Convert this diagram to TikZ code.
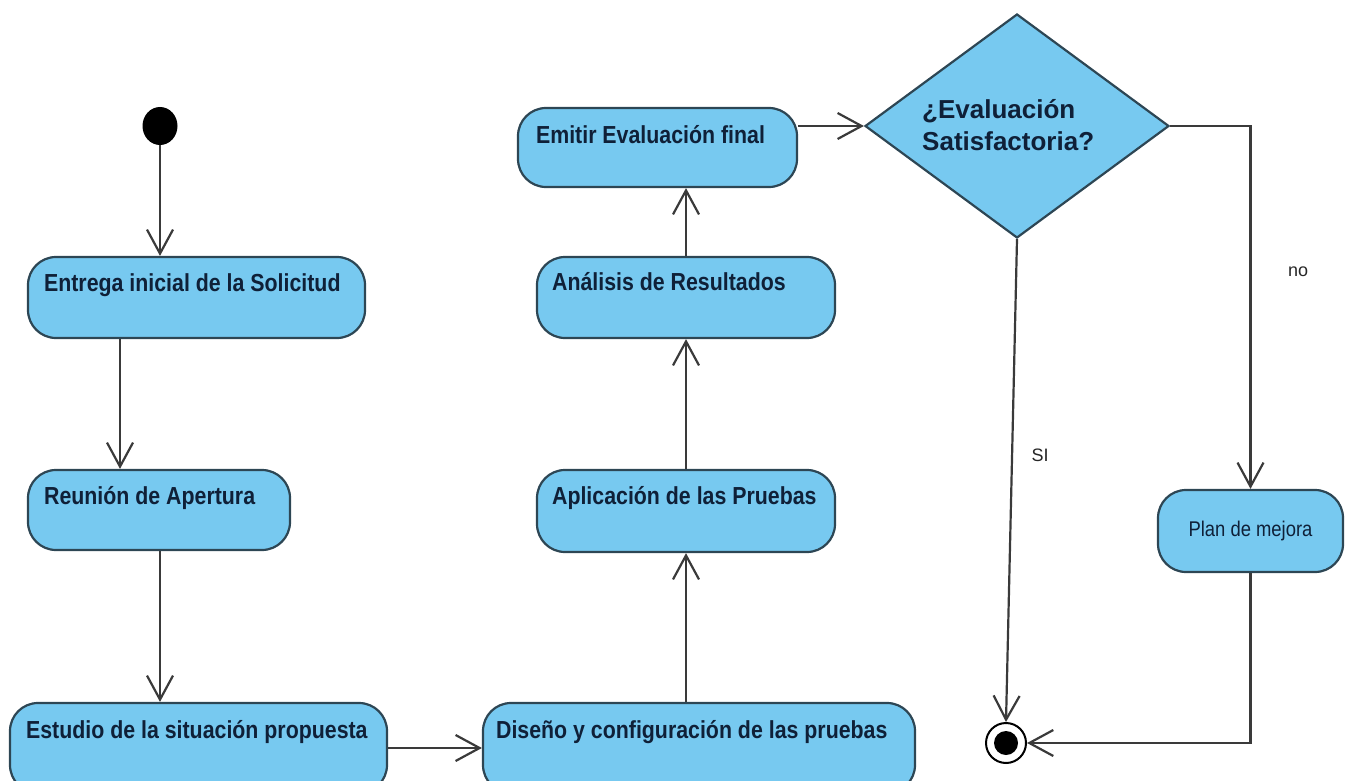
\documentclass[tikz,border=0pt]{standalone}
\usepackage{fontspec}
\setmainfont{Liberation Sans}
\usetikzlibrary{arrows.meta,shapes.geometric,calc}
\definecolor{actfill}{RGB}{119,201,240}
\definecolor{actline}{RGB}{45,70,84}
\definecolor{acttext}{RGB}{15,32,56}
\definecolor{flowline}{RGB}{58,58,58}
\newcommand{\tallt}[1]{\scalebox{0.97}[1.12]{#1}}
\tikzset{
  act/.style={draw=actline, line width=2.2pt, fill=actfill, rounded corners=28pt, inner sep=0pt},
  acttxt/.style={text=acttext, font=\fontsize{22}{24}\selectfont\bfseries, inner sep=0pt, anchor=base west},
  flow/.style={draw=flowline, line width=2.2pt, -{Straight Barb[length=24pt,width=26pt]}},
  lbl/.style={text=black!85, font=\fontsize{18}{20}\selectfont, inner sep=0pt},
}
\begin{document}
\begin{tikzpicture}[x=1pt,y=-1pt]
\useasboundingbox (0,0) rectangle (1349,781);
\clip (0,0) rectangle (1349,781);
% nodes
\node[ellipse, fill=black, minimum width=35pt, minimum height=38pt, inner sep=0pt] (start) at (160,126) {};
\node[act, minimum width=337pt, minimum height=81pt] (entrega) at (196.5,297.5) {};
\node[acttxt] at ($(entrega.north west)+(17,35.5)$) {\tallt{Entrega inicial de la Solicitud}};
\node[act, minimum width=262pt, minimum height=80pt] (reunion) at (159,510) {};
\node[acttxt] at ($(reunion.north west)+(17,35.5)$) {\tallt{Reunión de Apertura}};
\node[act, minimum width=377pt, minimum height=90pt] (estudio) at (198.5,748) {};
\node[acttxt] at ($(estudio.north west)+(17,37)$) {\tallt{Estudio de la situación propuesta}};
\node[act, minimum width=432pt, minimum height=90pt] (diseno) at (699,748) {};
\node[acttxt] at ($(diseno.north west)+(14,37)$) {\tallt{Diseño y configuración de las pruebas}};
\node[act, minimum width=298pt, minimum height=82pt] (aplic) at (686,511) {};
\node[acttxt] at ($(aplic.north west)+(16,35.5)$) {\tallt{Aplicación de las Pruebas}};
\node[act, minimum width=298pt, minimum height=81pt] (analisis) at (686,297.5) {};
\node[acttxt] at ($(analisis.north west)+(16,34.5)$) {\tallt{Análisis de Resultados}};
\node[act, minimum width=279pt, minimum height=79pt] (emitir) at (657.5,147.5) {};
\node[acttxt] at ($(emitir.north west)+(19,36.5)$) {\tallt{Emitir Evaluación final}};
\node[diamond, draw=actline, line width=2.2pt, fill=actfill, minimum width=304pt, minimum height=224pt, inner sep=0pt] (dia) at (1017,126) {};
\node[text=acttext, font=\fontsize{26}{32}\selectfont\bfseries, align=left, anchor=west, inner sep=0pt] (diatxt) at (922,125) {¿Evaluación\\Satisfactoria?};
\node[act, minimum width=185pt, minimum height=82pt, text=acttext, font=\fontsize{19}{22}\selectfont] (plan) at (1250.5,531) {\tallt{Plan de mejora}};
\node[circle, draw=black, line width=2pt, fill=white, minimum size=40pt, inner sep=0pt] (final) at (1006,743) {};
\fill[black] (final.center) circle (12pt);
% helper coordinates
\coordinate (c1) at (120,0);
\coordinate (c2) at (0,748);
% connectors
\draw[flow] (start.south) -- (start |- entrega.north);
\draw[flow] (entrega.south -| c1) -- (reunion.north -| c1);
\draw[flow] (reunion.south -| start) -- (estudio.north -| start);
\draw[flow] (estudio.east |- c2) -- (diseno.west |- c2);
\draw[flow] (diseno.north -| aplic) -- (aplic.south);
\draw[flow] (aplic.north) -- (analisis.south);
\draw[flow] (analisis.north) -- (emitir.south -| analisis);
\draw[flow] (emitir.east |- dia) -- (dia.west);
\draw[flow] (dia.east) -| (plan.north);
\draw[flow] (dia.south) -- (final.north);
\draw[flow] (plan.south) |- (final.east);
% labels
\node[lbl] (no) at (1298,272) {no};
\node[lbl] (si) at (1040,455) {SI};
\end{tikzpicture}
\end{document}
